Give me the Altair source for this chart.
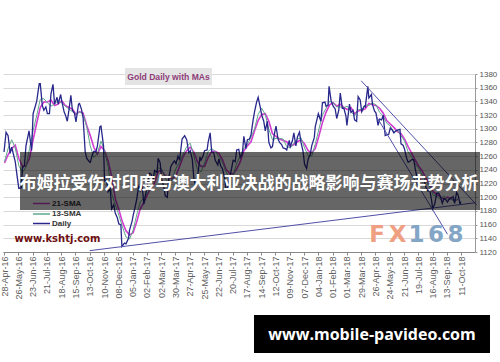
import json
import altair as alt
import pandas as pd

# ---------------- data ----------------
daily_dates = [
    "2016-04-28", "2016-05-02", "2016-05-06", "2016-05-10", "2016-05-13", "2016-05-18", "2016-05-20",
    "2016-05-24", "2016-05-27", "2016-06-01", "2016-06-03", "2016-06-07", "2016-06-10", "2016-06-16",
    "2016-06-21", "2016-06-24", "2016-07-01", "2016-07-06", "2016-07-08", "2016-07-12", "2016-07-15",
    "2016-07-19", "2016-07-22", "2016-07-26", "2016-07-29", "2016-08-02", "2016-08-05", "2016-08-10",
    "2016-08-12", "2016-08-17", "2016-08-19", "2016-08-24", "2016-08-26", "2016-08-30", "2016-09-02",
    "2016-09-06", "2016-09-09", "2016-09-13", "2016-09-16", "2016-09-21", "2016-09-23", "2016-09-27",
    "2016-09-30", "2016-10-04", "2016-10-07", "2016-10-11", "2016-10-14", "2016-10-18", "2016-10-21",
    "2016-10-25", "2016-10-28", "2016-11-02", "2016-11-04", "2016-11-09", "2016-11-11", "2016-11-15",
    "2016-11-18", "2016-11-22", "2016-11-25", "2016-11-29", "2016-12-02", "2016-12-06", "2016-12-09",
    "2016-12-13", "2016-12-15", "2016-12-20", "2016-12-23", "2016-12-28", "2016-12-30", "2017-01-04",
    "2017-01-06", "2017-01-10", "2017-01-13", "2017-01-17", "2017-01-20", "2017-01-24", "2017-01-27",
    "2017-02-01", "2017-02-03", "2017-02-07", "2017-02-10", "2017-02-14", "2017-02-17", "2017-02-22",
    "2017-02-24", "2017-02-28", "2017-03-03", "2017-03-07", "2017-03-10", "2017-03-14", "2017-03-17",
    "2017-03-21", "2017-03-24", "2017-03-28", "2017-03-31", "2017-04-04", "2017-04-07", "2017-04-12",
    "2017-04-17", "2017-04-21", "2017-04-25", "2017-04-28", "2017-05-02", "2017-05-05", "2017-05-09",
    "2017-05-12", "2017-05-17", "2017-05-19", "2017-05-23", "2017-05-26", "2017-05-31", "2017-06-02",
    "2017-06-06", "2017-06-09", "2017-06-13", "2017-06-16", "2017-06-21", "2017-06-23", "2017-06-27",
    "2017-06-30", "2017-07-05", "2017-07-07", "2017-07-10", "2017-07-14", "2017-07-18", "2017-07-21",
    "2017-07-25", "2017-07-28", "2017-08-01", "2017-08-04", "2017-08-08", "2017-08-11", "2017-08-15",
    "2017-08-18", "2017-08-22", "2017-08-25", "2017-08-29", "2017-09-01", "2017-09-05", "2017-09-08",
    "2017-09-12", "2017-09-15", "2017-09-19", "2017-09-22", "2017-09-26", "2017-09-29", "2017-10-03",
    "2017-10-06", "2017-10-10", "2017-10-13", "2017-10-17", "2017-10-20", "2017-10-24", "2017-10-27",
    "2017-10-31", "2017-11-03", "2017-11-08", "2017-11-10", "2017-11-14", "2017-11-17", "2017-11-21",
    "2017-11-24", "2017-11-28", "2017-12-01", "2017-12-05", "2017-12-08", "2017-12-12", "2017-12-15",
    "2017-12-19", "2017-12-22", "2017-12-27", "2017-12-29", "2018-01-04", "2018-01-09", "2018-01-12",
    "2018-01-17", "2018-01-19", "2018-01-23", "2018-01-25", "2018-01-29", "2018-02-02", "2018-02-06",
    "2018-02-09", "2018-02-13", "2018-02-16", "2018-02-20", "2018-02-23", "2018-02-27", "2018-03-01",
    "2018-03-06", "2018-03-09", "2018-03-13", "2018-03-16", "2018-03-20", "2018-03-23", "2018-03-27",
    "2018-03-30", "2018-04-04", "2018-04-06", "2018-04-11", "2018-04-13", "2018-04-18", "2018-04-20",
    "2018-04-24", "2018-04-27", "2018-05-01", "2018-05-04", "2018-05-08", "2018-05-11", "2018-05-15",
    "2018-05-18", "2018-05-22", "2018-05-25", "2018-05-29", "2018-06-01", "2018-06-05", "2018-06-08",
    "2018-06-13", "2018-06-15", "2018-06-19", "2018-06-22", "2018-06-26", "2018-06-29", "2018-07-03",
    "2018-07-06", "2018-07-10", "2018-07-13", "2018-07-17", "2018-07-20", "2018-07-24", "2018-07-27",
    "2018-07-31", "2018-08-03", "2018-08-07", "2018-08-10", "2018-08-14", "2018-08-16", "2018-08-20",
    "2018-08-24", "2018-08-28", "2018-08-31", "2018-09-04", "2018-09-07", "2018-09-11", "2018-09-14",
    "2018-09-18", "2018-09-21", "2018-09-25", "2018-09-28", "2018-10-02", "2018-10-05", "2018-10-09",
    "2018-10-10",
]
daily_values = [
    1266, 1295, 1290, 1264, 1273, 1258, 1252,
    1229, 1213, 1214, 1243, 1246, 1275, 1297,
    1268, 1322, 1340, 1366, 1366, 1334, 1327,
    1332, 1322, 1322, 1351, 1365, 1336, 1346,
    1336, 1350, 1341, 1324, 1321, 1311, 1326,
    1349, 1327, 1323, 1310, 1336, 1337, 1328,
    1316, 1267, 1257, 1253, 1251, 1262, 1267,
    1266, 1275, 1303, 1304, 1275, 1224, 1225,
    1208, 1212, 1183, 1189, 1177, 1170, 1161,
    1160, 1128, 1133, 1132, 1140, 1152, 1165,
    1173, 1186, 1197, 1217, 1209, 1215, 1190,
    1210, 1220, 1235, 1234, 1226, 1239, 1236,
    1257, 1250, 1226, 1216, 1202, 1200, 1229,
    1245, 1249, 1253, 1249, 1260, 1254, 1285,
    1290, 1284, 1265, 1268, 1255, 1228, 1215,
    1228, 1259, 1254, 1260, 1268, 1269, 1280,
    1294, 1266, 1265, 1254, 1247, 1256, 1245,
    1242, 1226, 1212, 1212, 1228, 1242, 1254,
    1252, 1269, 1270, 1258, 1263, 1289, 1271,
    1284, 1285, 1291, 1312, 1325, 1339, 1346,
    1332, 1320, 1311, 1297, 1311, 1280, 1272,
    1274, 1293, 1304, 1285, 1280, 1277, 1272,
    1271, 1269, 1283, 1274, 1282, 1294, 1275,
    1288, 1295, 1280, 1267, 1248, 1242, 1256,
    1262, 1275, 1287, 1303, 1322, 1311, 1338,
    1339, 1333, 1334, 1362, 1341, 1333, 1329,
    1315, 1327, 1352, 1330, 1330, 1319, 1305,
    1336, 1324, 1327, 1313, 1311, 1347, 1342,
    1325, 1333, 1332, 1362, 1345, 1350, 1336,
    1326, 1323, 1305, 1314, 1313, 1320, 1290,
    1291, 1292, 1301, 1298, 1294, 1297, 1298,
    1299, 1278, 1276, 1270, 1257, 1251, 1253,
    1255, 1255, 1241, 1227, 1231, 1224, 1223,
    1223, 1214, 1209, 1212, 1195, 1183, 1190,
    1206, 1206, 1201, 1191, 1198, 1196, 1193,
    1198, 1199, 1201, 1191, 1207, 1203, 1189,
    1194,
]

# moving averages, read at weekly (Friday) points starting 29-Apr-16
sma_start = "2016-04-29"
sma13_values = [
    1252, 1271, 1284, 1272, 1246, 1236, 1244, 1271, 1297, 1319,
    1343, 1344, 1338, 1333, 1336, 1341, 1338, 1333, 1329, 1325,
    1321, 1325, 1321, 1303, 1275, 1258, 1264, 1282, 1268, 1245,
    1205, 1189, 1174, 1157, 1142, 1139, 1152, 1174, 1193, 1199,
    1206, 1215, 1231, 1243, 1241, 1228, 1219, 1227, 1242, 1251,
    1263, 1274, 1279, 1260, 1241, 1237, 1250, 1267, 1271, 1267,
    1259, 1251, 1237, 1227, 1231, 1250, 1260, 1272, 1277, 1288,
    1300, 1321, 1330, 1321, 1299, 1284, 1286, 1286, 1285, 1274,
    1272, 1279, 1285, 1287, 1272, 1261, 1260, 1278, 1299, 1320,
    1330, 1340, 1338, 1332, 1332, 1331, 1333, 1325, 1319, 1328,
    1328, 1335, 1334, 1338, 1335, 1324, 1319, 1308, 1304, 1295,
    1298, 1290, 1282, 1266, 1259, 1249, 1242, 1232, 1223, 1216,
    1203, 1201, 1197, 1202, 1197, 1197, 1194, 1198,
]
sma21_values = [
    1250, 1262, 1271, 1276, 1257, 1245, 1246, 1257, 1284, 1308,
    1331, 1339, 1339, 1342, 1334, 1336, 1341, 1334, 1331, 1329,
    1321, 1325, 1323, 1305, 1290, 1273, 1263, 1274, 1268, 1253,
    1230, 1198, 1182, 1164, 1151, 1145, 1148, 1164, 1183, 1192,
    1204, 1213, 1221, 1238, 1239, 1231, 1229, 1227, 1232, 1245,
    1259, 1268, 1273, 1266, 1252, 1245, 1245, 1258, 1267, 1267,
    1264, 1255, 1241, 1235, 1234, 1241, 1252, 1268, 1275, 1281,
    1297, 1312, 1321, 1322, 1311, 1293, 1289, 1285, 1283, 1281,
    1274, 1277, 1281, 1284, 1278, 1268, 1265, 1271, 1289, 1309,
    1324, 1335, 1338, 1333, 1336, 1331, 1328, 1331, 1322, 1326,
    1327, 1329, 1337, 1335, 1334, 1330, 1323, 1312, 1307, 1302,
    1296, 1293, 1285, 1274, 1264, 1254, 1245, 1238, 1227, 1220,
    1208, 1204, 1201, 1197, 1200, 1198, 1195, 1197,
]

# drawn trend lines (two end points each)
trend_names = ["support", "support", "upper", "upper", "lower", "lower"]
trend_dates = ["2016-10-13", "2018-11-08", "2018-03-29", "2018-11-10", "2018-04-27", "2018-09-14"]
trend_values = [1122, 1192, 1370, 1189, 1319, 1146]

tick_labels = [
    "28-Apr-16", "26-May-16", "23-Jun-16", "21-Jul-16", "18-Aug-16", "15-Sep-16", "13-Oct-16",
    "10-Nov-16", "08-Dec-16", "05-Jan-17", "02-Feb-17", "02-Mar-17", "30-Mar-17", "27-Apr-17",
    "25-May-17", "22-Jun-17", "20-Jul-17", "17-Aug-17", "14-Sep-17", "12-Oct-17", "09-Nov-17",
    "07-Dec-17", "04-Jan-18", "01-Feb-18", "01-Mar-18", "29-Mar-18", "26-Apr-18", "24-May-18",
    "21-Jun-18", "19-Jul-18", "16-Aug-18", "13-Sep-18", "11-Oct-18",
]
y_ticks = [1120, 1140, 1160, 1180, 1200, 1220, 1240, 1260, 1280, 1300, 1320, 1340, 1360, 1380]

legend_names = ["21-SMA", "13-SMA", "Daily"]
chart_title = "Gold Daily with MAs"
source_text = "www.kshtj.com"
banner_text = "布姆拉受伤对印度与澳大利亚决战的战略影响与赛场走势分析"
url_text = "www.mobile-pavideo.com"

# ---------------- build tables ----------------
base_date = pd.Timestamp("2016-04-28")


def to_days(dates):
    return [(pd.Timestamp(d) - base_date).days for d in dates]


daily_df = pd.DataFrame({"day": to_days(daily_dates), "price": daily_values})
sma_dates = pd.date_range(sma_start, periods=len(sma13_values), freq="7D")
sma13_df = pd.DataFrame({"day": to_days(sma_dates), "price": sma13_values})
sma21_df = pd.DataFrame({"day": to_days(sma_dates), "price": sma21_values})
trend_df = pd.DataFrame({"name": trend_names, "day": to_days(trend_dates), "price": trend_values})
tick_days = to_days([pd.to_datetime(t, format="%d-%b-%y") for t in tick_labels])

label_expr = json.dumps(tick_labels) + "[round(datum.value / 28)]"

W, H = 472, 178
FONT = "Liberation Sans"

x_enc = alt.X(
    "day:Q",
    scale=alt.Scale(domain=[-2, 923], nice=False, zero=False),
    axis=alt.Axis(
        values=tick_days, labelExpr=label_expr, labelAngle=270, labelAlign="right",
        labelBaseline="middle", labelFontSize=9, labelFont=FONT, labelColor="#606060",
        labelPadding=1, tickSize=3, tickColor="#888888", domainColor="#888888",
        grid=False, title=None, labelOverlap=False,
    ),
)
y_enc = alt.Y(
    "price:Q",
    scale=alt.Scale(domain=[1120, 1380], nice=False, zero=False),
    axis=alt.Axis(
        orient="right", values=y_ticks, format="d", labelFontSize=8, labelFont=FONT,
        labelColor="#555555", labelPadding=2, tickSize=2, tickColor="#999999",
        domainColor="#999999", grid=True, gridColor="#D9D9D9", gridWidth=1, title=None,
    ),
)

sma21_layer = alt.Chart(sma21_df).mark_line(color="#D13CD1", strokeWidth=1.6).encode(x=x_enc, y=y_enc)
sma13_layer = alt.Chart(sma13_df).mark_line(color="#5FA88C", strokeWidth=1).encode(x=x_enc, y=y_enc)
daily_layer = alt.Chart(daily_df).mark_line(color="#27278C", strokeWidth=1.3).encode(x=x_enc, y=y_enc)
trend_layer = alt.Chart(trend_df).mark_line(color="#5050AA", strokeWidth=1).encode(
    x=x_enc, y=y_enc, detail="name:N"
)

one = pd.DataFrame({"k": [0]})


def rect(x1, y1, x2, y2, color, opacity=1.0):
    return alt.Chart(one).mark_rect(color=color, opacity=opacity).encode(
        x=alt.value(x1), x2=alt.value(x2), y=alt.value(y1), y2=alt.value(y2)
    )


def text(s, x, y, size, color, weight="bold", font=FONT, align="center"):
    return alt.Chart(one).mark_text(
        text=s, fontSize=size, color=color, fontWeight=weight, font=font,
        align=align, baseline="middle",
    ).encode(x=alt.value(x), y=alt.value(y))


# chart title box
title_layers = [rect(122, -6, 209, 11, "#E4E4E4"), text(chart_title, 165.5, 2.5, 8.6, "#8E3C78")]

# legend
legend_colors = ["#D13CD1", "#5FA88C", "#27278C"]
legend_y = [129.5, 140, 149.5]
legend_layers = []
for name, col, yy in zip(legend_names, legend_colors, legend_y):
    legend_layers.append(
        alt.Chart(one).mark_rule(color=col, strokeWidth=1.5).encode(
            x=alt.value(30), x2=alt.value(47), y=alt.value(yy)
        )
    )
    legend_layers.append(text(name, 49, yy, 8, "#333333", align="left"))
legend_layers.append(text(source_text, 54.5, 165, 10, "#6E1010", font="DejaVu Sans"))

# FX168 watermark
fx_chars = ["F", "X", "1", "6", "8"]
fx_x = [374, 394.5, 413.5, 433, 452.5]
fx_cols = ["#EFA083", "#EFA083", "#84A6C6", "#84A6C6", "#84A6C6"]
fx_layers = [text(c, xx, 161, 23, col, font="DejaVu Sans") for c, xx, col in zip(fx_chars, fx_x, fx_cols)]

# overlay banner and url box
banner_layers = [
    rect(17, 78, 477, 136, "#000000", 0.6),
    text(banner_text, 246, 109.5, 17, "#FFFFFF", font="Noto Sans CJK SC"),
]
url_layers = [rect(251, 241, 487, 279, "#000000"), text(url_text, 369, 261, 16, "#FFFFFF", font="Open Sans")]

chart = alt.layer(
    sma21_layer, sma13_layer, daily_layer, trend_layer,
    *title_layers, *legend_layers, *fx_layers, *banner_layers, *url_layers,
).properties(
    width=W, height=H,
    autosize=alt.AutoSizeParams(type="none"),
    padding={"left": 3, "top": 74, "right": 25, "bottom": 110},
    background="#FFFFFF",
).configure_view(stroke="transparent")

chart.save("out.html", embed_options={"renderer": "svg", "actions": False})
